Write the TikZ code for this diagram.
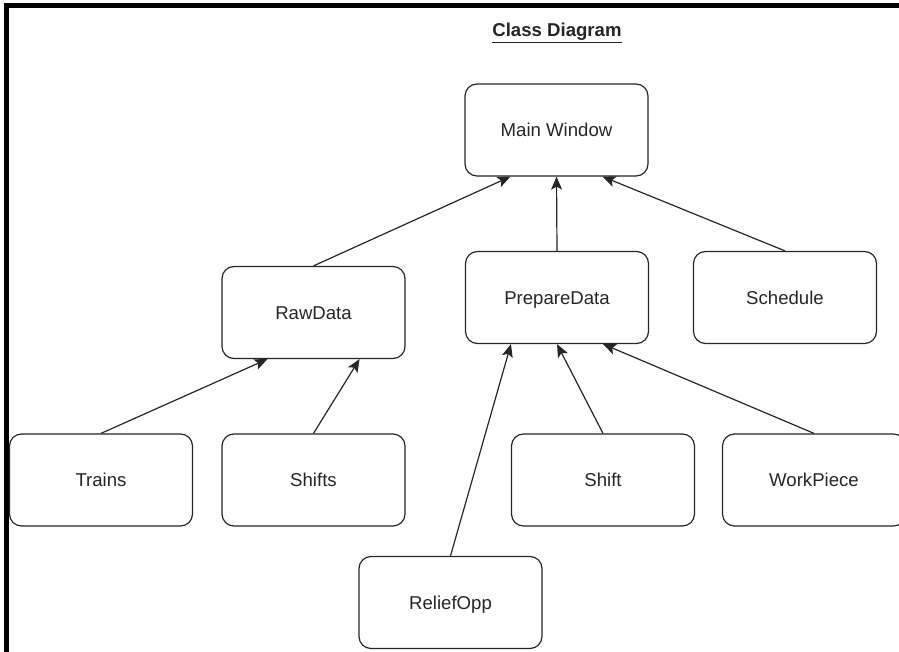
\documentclass[tikz,border=0pt]{standalone}
\usepackage{fontspec}
\setmainfont{Liberation Sans}
\usetikzlibrary{arrows.meta,calc}
\begin{document}
\begin{tikzpicture}[x=1pt,y=-1pt,
  cls/.style={draw=black!85, line width=1.2pt, rounded corners=12pt,
    minimum width=183pt, minimum height=92pt, inner sep=0pt,
    text height=13.3pt, text depth=0pt, text=black!85,
    font=\fontsize{18.6}{22}\selectfont},
  link/.style={draw=black!85, line width=1.2pt, -{Stealth[length=13pt,width=11pt,inset=3pt]}},
  frameline/.style={line width=5pt, black}]
\useasboundingbox (0,0) rectangle (899,652);
\fill[white] (0,0) rectangle (899,652);
% frame
\draw[frameline] (6.5,652) -- (6.5,6) -- (899,6);
% title
\node (title) at (557,33) [font=\fontsize{18.6}{22}\selectfont\bfseries, text=black!85, inner sep=0pt] {\underline{Class Diagram}};
% classes
\node[cls] (main)   at (556.5,130)   {Main Window};
\node[cls] (raw)    at (313.5,312.5) {RawData};
\node[cls] (prep)   at (557,297.5)   {PrepareData};
\node[cls] (sched)  at (785,297.5)   {Schedule};
\node[cls] (trains) at (101,480)     {Trains};
\node[cls] (shifts) at (313.5,480)   {Shifts};
\node[cls] (shift)  at (603,480)     {Shift};
\node[cls] (work)   at (814,480)     {WorkPiece};
\node[cls] (relief) at (450.5,602.5) {ReliefOpp};
% connectors
\draw[link] (raw.north) -- ($(main.south west)!0.25!(main.south east)$);
\draw[link] (prep.north) -- (main.south);
\draw[link] (sched.north) -- ($(main.south west)!0.75!(main.south east)$);
\draw[link] (trains.north) -- ($(raw.south west)!0.25!(raw.south east)$);
\draw[link] (shifts.north) -- ($(raw.south west)!0.75!(raw.south east)$);
\draw[link] (relief.north) -- ($(prep.south west)!0.25!(prep.south east)$);
\draw[link] (shift.north) -- (prep.south);
\draw[link] (work.north) -- ($(prep.south west)!0.75!(prep.south east)$);
\end{tikzpicture}
\end{document}
